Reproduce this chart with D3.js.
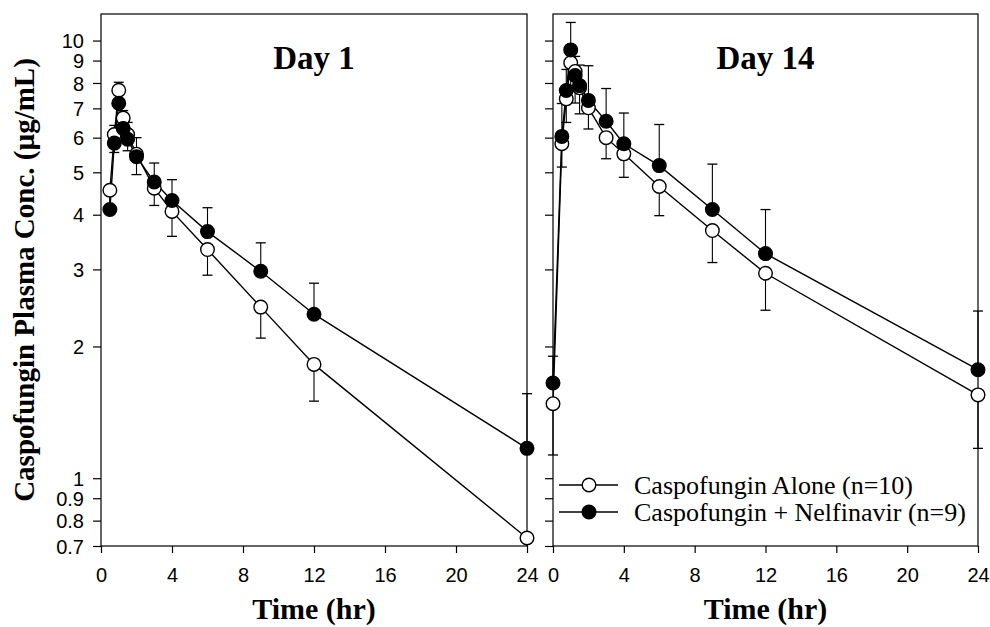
<!DOCTYPE html>
<html lang="en">
  <head>
    <meta charset="utf-8">
    <title>Caspofungin plasma concentration - Day 1 / Day 14</title>
    <script src="https://d3js.org/d3.v7.min.js"></script>
    <style>
      body { margin: 0; background: #fff; }
      svg { display: block; }
      .tick text { font-family: "Liberation Sans", Arial, sans-serif; font-size: 20px; fill: #000; }
      .title { font-family: "Liberation Serif", "Times New Roman", serif; font-weight: bold; fill: #000; }
      .legend text { font-family: "Liberation Serif", "Times New Roman", serif; font-size: 26px; fill: #000; }
    </style>
  </head>
  <body>
    <script>
      // sampling times (hr)
      const timesDay1 = [0.5, 0.75, 1, 1.25, 1.5, 2, 3, 4, 6, 9, 12, 24];
      const timesDay14 = [0, 0.5, 0.75, 1, 1.25, 1.5, 2, 3, 4, 6, 9, 12, 24];

      // Day 1 means and SDs (ug/mL)
      const alone1 = [4.55, 6.1, 7.7, 6.65, 6.1, 5.5, 4.6, 4.07, 3.33, 2.46, 1.82, 0.73];
      const alone1Sd = [0.4, 0.55, 0.5, 0.6, 0.5, 0.56, 0.4, 0.5, 0.42, 0.37, 0.32, 0.25];
      const nelf1 = [4.11, 5.83, 7.19, 6.3, 5.95, 5.43, 4.75, 4.31, 3.66, 2.97, 2.37, 1.17];
      const nelf1Sd = [0.5, 0.57, 0.84, 0.62, 0.55, 0.57, 0.5, 0.5, 0.49, 0.48, 0.42, 0.39];

      // Day 14 means and SDs (ug/mL)
      const alone14 = [1.48, 5.81, 7.36, 8.9, 8.5, 7.8, 7.02, 6.0, 5.51, 4.64, 3.68, 2.94, 1.55];
      const alone14Sd = [0.35, 0.67, 0.86, 1.0, 1.3, 1.0, 0.74, 0.63, 0.64, 0.66, 0.57, 0.52, 0.38];
      const nelf14 = [1.65, 6.04, 7.69, 9.52, 8.32, 7.89, 7.3, 6.54, 5.81, 5.18, 4.11, 3.26, 1.77];
      const nelf14Sd = [0.25, 1.14, 0.9, 1.48, 0.88, 0.9, 1.46, 1.23, 1.02, 1.25, 1.11, 0.85, 0.64];

      const yTicks = [10, 9, 8, 7, 6, 5, 4, 3, 2, 1, 0.9, 0.8, 0.7];
      const xTicks = [0, 4, 8, 12, 16, 20, 24];
      const legendLabels = ["Caspofungin Alone (n=10)", "Caspofungin + Nelfinavir (n=9)"];

      const w = 990, h = 627;
      const plotTop = 14, plotBottom = 546;

      const svg = d3.select("body").append("svg")
        .attr("width", w)
        .attr("height", h);

      const y = d3.scaleLog()
        .domain([0.7, 11.5])
        .range([plotBottom, plotTop]);

      const panels = [
        { title: "Day 1", left: 101, right: 527, times: timesDay1,
          alone: alone1, aloneSd: alone1Sd, nelf: nelf1, nelfSd: nelf1Sd },
        { title: "Day 14", left: 553, right: 978, times: timesDay14,
          alone: alone14, aloneSd: alone14Sd, nelf: nelf14, nelfSd: nelf14Sd }
      ];

      panels.forEach((p, pi) => {
        const x = d3.scaleLinear().domain([0, 24]).range([p.left, p.right]);
        const g = svg.append("g");

        // frame
        g.append("rect")
          .attr("x", p.left).attr("y", plotTop)
          .attr("width", p.right - p.left).attr("height", plotBottom - plotTop)
          .attr("fill", "none").attr("stroke", "#000").attr("stroke-width", 1.2);

        // x axis
        const xAxis = g.append("g")
          .attr("transform", `translate(0,${plotBottom})`)
          .call(d3.axisBottom(x).tickValues(xTicks).tickSize(7).tickPadding(15));
        xAxis.select(".domain").remove();
        xAxis.selectAll("line").attr("stroke-width", 1.2);

        // y axis
        const yAxis = g.append("g")
          .attr("transform", `translate(${p.left},0)`)
          .call(d3.axisLeft(y).tickValues(yTicks).tickFormat(d => pi === 0 ? d3.format("")(d) : "")
            .tickSize(8).tickPadding(9));
        yAxis.select(".domain").remove();
        yAxis.selectAll("line").attr("stroke-width", 1.2);
        yAxis.selectAll("text").attr("dy", "0.36em");

        // panel title
        g.append("text").attr("class", "title")
          .attr("x", (p.left + p.right) / 2).attr("y", 69)
          .attr("text-anchor", "middle").attr("font-size", 33)
          .text(p.title);

        // x title
        g.append("text").attr("class", "title")
          .attr("x", (p.left + p.right) / 2).attr("y", 619)
          .attr("text-anchor", "middle").attr("font-size", 30)
          .text("Time (hr)");

        const series = [
          { vals: p.alone, sd: p.aloneSd, fill: "#fff", dir: -1 },
          { vals: p.nelf, sd: p.nelfSd, fill: "#000", dir: 1 }
        ];

        // error bars (open: downward, filled: upward)
        series.forEach(s => {
          const bars = g.append("g");
          p.times.forEach((t, i) => {
            const end = Math.max(0.7, s.vals[i] + s.dir * s.sd[i]);
            const cx = x(t);
            bars.append("line")
              .attr("x1", cx).attr("x2", cx)
              .attr("y1", y(s.vals[i])).attr("y2", y(end))
              .attr("stroke", "#000").attr("stroke-width", 1.1);
            if (end > 0.7) {
              bars.append("line")
                .attr("x1", cx - 5).attr("x2", cx + 5)
                .attr("y1", y(end)).attr("y2", y(end))
                .attr("stroke", "#000").attr("stroke-width", 1.3);
            }
          });
        });

        const line = d3.line().x(d => x(d[0])).y(d => y(d[1]));
        series.forEach(s => {
          const pts = p.times.map((t, i) => [t, s.vals[i]]);
          g.append("path").datum(pts)
            .attr("d", line)
            .attr("fill", "none").attr("stroke", "#000").attr("stroke-width", 1.4);
        });
        series.forEach(s => {
          g.selectAll(null).data(p.times.map((t, i) => [t, s.vals[i]]))
            .enter().append("circle")
            .attr("cx", d => x(d[0])).attr("cy", d => y(d[1]))
            .attr("r", 6.8)
            .attr("fill", s.fill).attr("stroke", "#000").attr("stroke-width", 1.4);
        });
      });

      // y axis title
      svg.append("text").attr("class", "title")
        .attr("transform", `translate(34,${(plotTop + plotBottom) / 2}) rotate(-90)`)
        .attr("text-anchor", "middle").attr("font-size", 29)
        .text("Caspofungin Plasma Conc. (\u00b5g/mL)");

      // legend
      const legend = svg.append("g").attr("class", "legend");
      [["#fff", 485], ["#000", 512]].forEach((d, i) => {
        legend.append("line")
          .attr("x1", 559).attr("x2", 618).attr("y1", d[1]).attr("y2", d[1])
          .attr("stroke", "#000").attr("stroke-width", 1.4);
        legend.append("circle")
          .attr("cx", 589).attr("cy", d[1]).attr("r", 6.8)
          .attr("fill", d[0]).attr("stroke", "#000").attr("stroke-width", 1.4);
        legend.append("text")
          .attr("x", 634).attr("y", d[1]).attr("dy", "0.35em")
          .text(legendLabels[i]);
      });
    </script>
  </body>
</html>
